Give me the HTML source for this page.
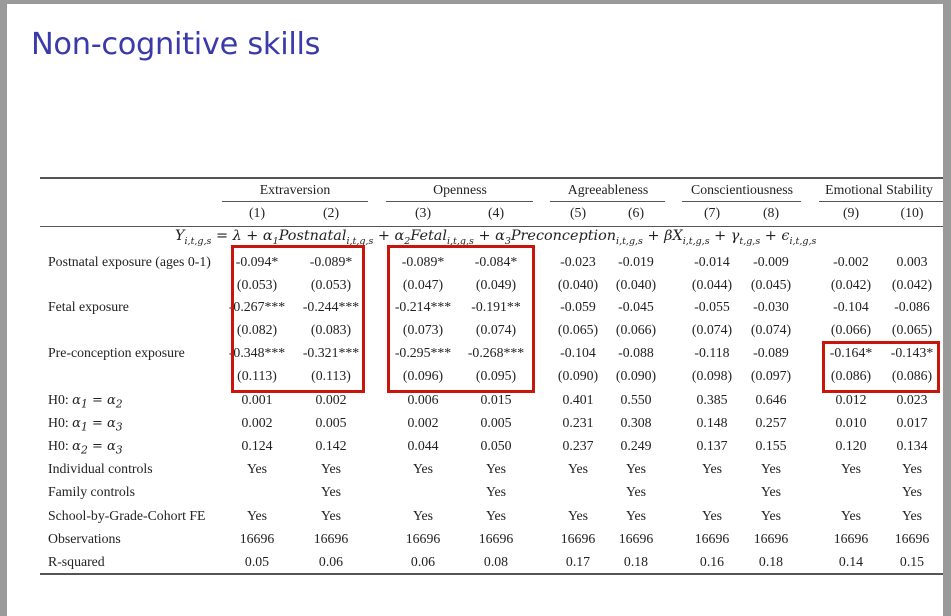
<!DOCTYPE html>
<html><head><meta charset="utf-8"><style>
html,body{margin:0;padding:0;}
body{width:951px;height:616px;background:#9a9a9a;position:relative;overflow:hidden;font-family:"Liberation Serif",serif;font-size:13.8px;color:#222;}
.page{position:absolute;left:7px;top:4px;width:936px;height:612px;background:#fff;}
.t{position:absolute;left:31px;top:27px;font-family:"DejaVu Sans","Liberation Sans",sans-serif;font-size:30.4px;color:#3a3aa8;letter-spacing:-0.3px;}
.r{position:absolute;left:0;width:951px;height:20px;line-height:20px;}
.r span{position:absolute;width:90px;text-align:center;white-space:nowrap;}
.r .l{left:48px;width:auto;text-align:left;}
.c1{left:212px}.c2{left:286px}.c3{left:378px}.c4{left:451px}.c5{left:533px}.c6{left:591px}.c7{left:667px}.c8{left:726px}.c9{left:806px}.c10{left:867px}
.hl{position:absolute;height:1px;background:#555;}
.box{position:absolute;border:3.5px solid #c8160c;}
i.m{font-family:"DejaVu Serif",serif;font-style:italic;font-size:13px;}
</style></head><body>
<div class="page"></div>
<div class="t">Non-cognitive skills</div>
<div class="hl" style="left:40px;top:177px;width:903px;height:1.5px"></div>
<div class="hl" style="left:40px;top:226px;width:903px"></div>
<div class="hl" style="left:40px;top:573px;width:903px;height:1.5px"></div>
<div class="hl" style="left:222px;top:201px;width:146px"></div>
<div class="hl" style="left:386px;top:201px;width:147px"></div>
<div class="hl" style="left:550px;top:201px;width:115px"></div>
<div class="hl" style="left:682px;top:201px;width:119px"></div>
<div class="hl" style="left:819px;top:201px;width:124px"></div>
<div class="r" style="top:180px"><span style="left:250px">Extraversion</span><span style="left:415px">Openness</span><span style="left:557px;width:102px">Agreeableness</span><span style="left:672px;width:140px">Conscientiousness</span><span style="left:812px;width:134px">Emotional Stability</span></div>
<div class="r" style="top:203px"><span class="c1">(1)</span><span class="c2">(2)</span><span class="c3">(3)</span><span class="c4">(4)</span><span class="c5">(5)</span><span class="c6">(6)</span><span class="c7">(7)</span><span class="c8">(8)</span><span class="c9">(9)</span><span class="c10">(10)</span></div>
<div style="position:absolute;left:175px;top:228px;font-family:'DejaVu Serif',serif;font-style:italic;font-size:14.4px;color:#222;white-space:nowrap">Y<sub style="font-size:9.5px">i,t,g,s</sub> = λ + α<sub style="font-size:9.5px">1</sub>Postnatal<sub style="font-size:9.5px">i,t,g,s</sub> + α<sub style="font-size:9.5px">2</sub>Fetal<sub style="font-size:9.5px">i,t,g,s</sub> + α<sub style="font-size:9.5px">3</sub>Preconception<sub style="font-size:9.5px">i,t,g,s</sub> + βX<sub style="font-size:9.5px">i,t,g,s</sub> + γ<sub style="font-size:9.5px">t,g,s</sub> + ϵ<sub style="font-size:9.5px">i,t,g,s</sub></div>
<div class="r" style="top:252px"><span class="l">Postnatal exposure (ages 0-1)</span><span class="c1">-0.094*</span><span class="c2">-0.089*</span><span class="c3">-0.089*</span><span class="c4">-0.084*</span><span class="c5">-0.023</span><span class="c6">-0.019</span><span class="c7">-0.014</span><span class="c8">-0.009</span><span class="c9">-0.002</span><span class="c10">0.003</span></div>
<div class="r" style="top:275px"><span class="c1">(0.053)</span><span class="c2">(0.053)</span><span class="c3">(0.047)</span><span class="c4">(0.049)</span><span class="c5">(0.040)</span><span class="c6">(0.040)</span><span class="c7">(0.044)</span><span class="c8">(0.045)</span><span class="c9">(0.042)</span><span class="c10">(0.042)</span></div>
<div class="r" style="top:297px"><span class="l">Fetal exposure</span><span class="c1">-0.267***</span><span class="c2">-0.244***</span><span class="c3">-0.214***</span><span class="c4">-0.191**</span><span class="c5">-0.059</span><span class="c6">-0.045</span><span class="c7">-0.055</span><span class="c8">-0.030</span><span class="c9">-0.104</span><span class="c10">-0.086</span></div>
<div class="r" style="top:320px"><span class="c1">(0.082)</span><span class="c2">(0.083)</span><span class="c3">(0.073)</span><span class="c4">(0.074)</span><span class="c5">(0.065)</span><span class="c6">(0.066)</span><span class="c7">(0.074)</span><span class="c8">(0.074)</span><span class="c9">(0.066)</span><span class="c10">(0.065)</span></div>
<div class="r" style="top:343px"><span class="l">Pre-conception exposure</span><span class="c1">-0.348***</span><span class="c2">-0.321***</span><span class="c3">-0.295***</span><span class="c4">-0.268***</span><span class="c5">-0.104</span><span class="c6">-0.088</span><span class="c7">-0.118</span><span class="c8">-0.089</span><span class="c9">-0.164*</span><span class="c10">-0.143*</span></div>
<div class="r" style="top:366px"><span class="c1">(0.113)</span><span class="c2">(0.113)</span><span class="c3">(0.096)</span><span class="c4">(0.095)</span><span class="c5">(0.090)</span><span class="c6">(0.090)</span><span class="c7">(0.098)</span><span class="c8">(0.097)</span><span class="c9">(0.086)</span><span class="c10">(0.086)</span></div>
<div class="r" style="top:390px"><span class="l">H0: <i class="m">α<sub>1</sub> = α<sub>2</sub></i></span><span class="c1">0.001</span><span class="c2">0.002</span><span class="c3">0.006</span><span class="c4">0.015</span><span class="c5">0.401</span><span class="c6">0.550</span><span class="c7">0.385</span><span class="c8">0.646</span><span class="c9">0.012</span><span class="c10">0.023</span></div>
<div class="r" style="top:413px"><span class="l">H0: <i class="m">α<sub>1</sub> = α<sub>3</sub></i></span><span class="c1">0.002</span><span class="c2">0.005</span><span class="c3">0.002</span><span class="c4">0.005</span><span class="c5">0.231</span><span class="c6">0.308</span><span class="c7">0.148</span><span class="c8">0.257</span><span class="c9">0.010</span><span class="c10">0.017</span></div>
<div class="r" style="top:436px"><span class="l">H0: <i class="m">α<sub>2</sub> = α<sub>3</sub></i></span><span class="c1">0.124</span><span class="c2">0.142</span><span class="c3">0.044</span><span class="c4">0.050</span><span class="c5">0.237</span><span class="c6">0.249</span><span class="c7">0.137</span><span class="c8">0.155</span><span class="c9">0.120</span><span class="c10">0.134</span></div>
<div class="r" style="top:459px"><span class="l">Individual controls</span><span class="c1">Yes</span><span class="c2">Yes</span><span class="c3">Yes</span><span class="c4">Yes</span><span class="c5">Yes</span><span class="c6">Yes</span><span class="c7">Yes</span><span class="c8">Yes</span><span class="c9">Yes</span><span class="c10">Yes</span></div>
<div class="r" style="top:482px"><span class="l">Family controls</span><span class="c2">Yes</span><span class="c4">Yes</span><span class="c6">Yes</span><span class="c8">Yes</span><span class="c10">Yes</span></div>
<div class="r" style="top:506px"><span class="l">School-by-Grade-Cohort FE</span><span class="c1">Yes</span><span class="c2">Yes</span><span class="c3">Yes</span><span class="c4">Yes</span><span class="c5">Yes</span><span class="c6">Yes</span><span class="c7">Yes</span><span class="c8">Yes</span><span class="c9">Yes</span><span class="c10">Yes</span></div>
<div class="r" style="top:529px"><span class="l">Observations</span><span class="c1">16696</span><span class="c2">16696</span><span class="c3">16696</span><span class="c4">16696</span><span class="c5">16696</span><span class="c6">16696</span><span class="c7">16696</span><span class="c8">16696</span><span class="c9">16696</span><span class="c10">16696</span></div>
<div class="r" style="top:552px"><span class="l">R-squared</span><span class="c1">0.05</span><span class="c2">0.06</span><span class="c3">0.06</span><span class="c4">0.08</span><span class="c5">0.17</span><span class="c6">0.18</span><span class="c7">0.16</span><span class="c8">0.18</span><span class="c9">0.14</span><span class="c10">0.15</span></div>
<div class="box" style="left:231px;top:245px;width:128px;height:142px"></div>
<div class="box" style="left:387px;top:245px;width:142px;height:142px"></div>
<div class="box" style="left:822px;top:341px;width:112px;height:46px"></div>
</body></html>
